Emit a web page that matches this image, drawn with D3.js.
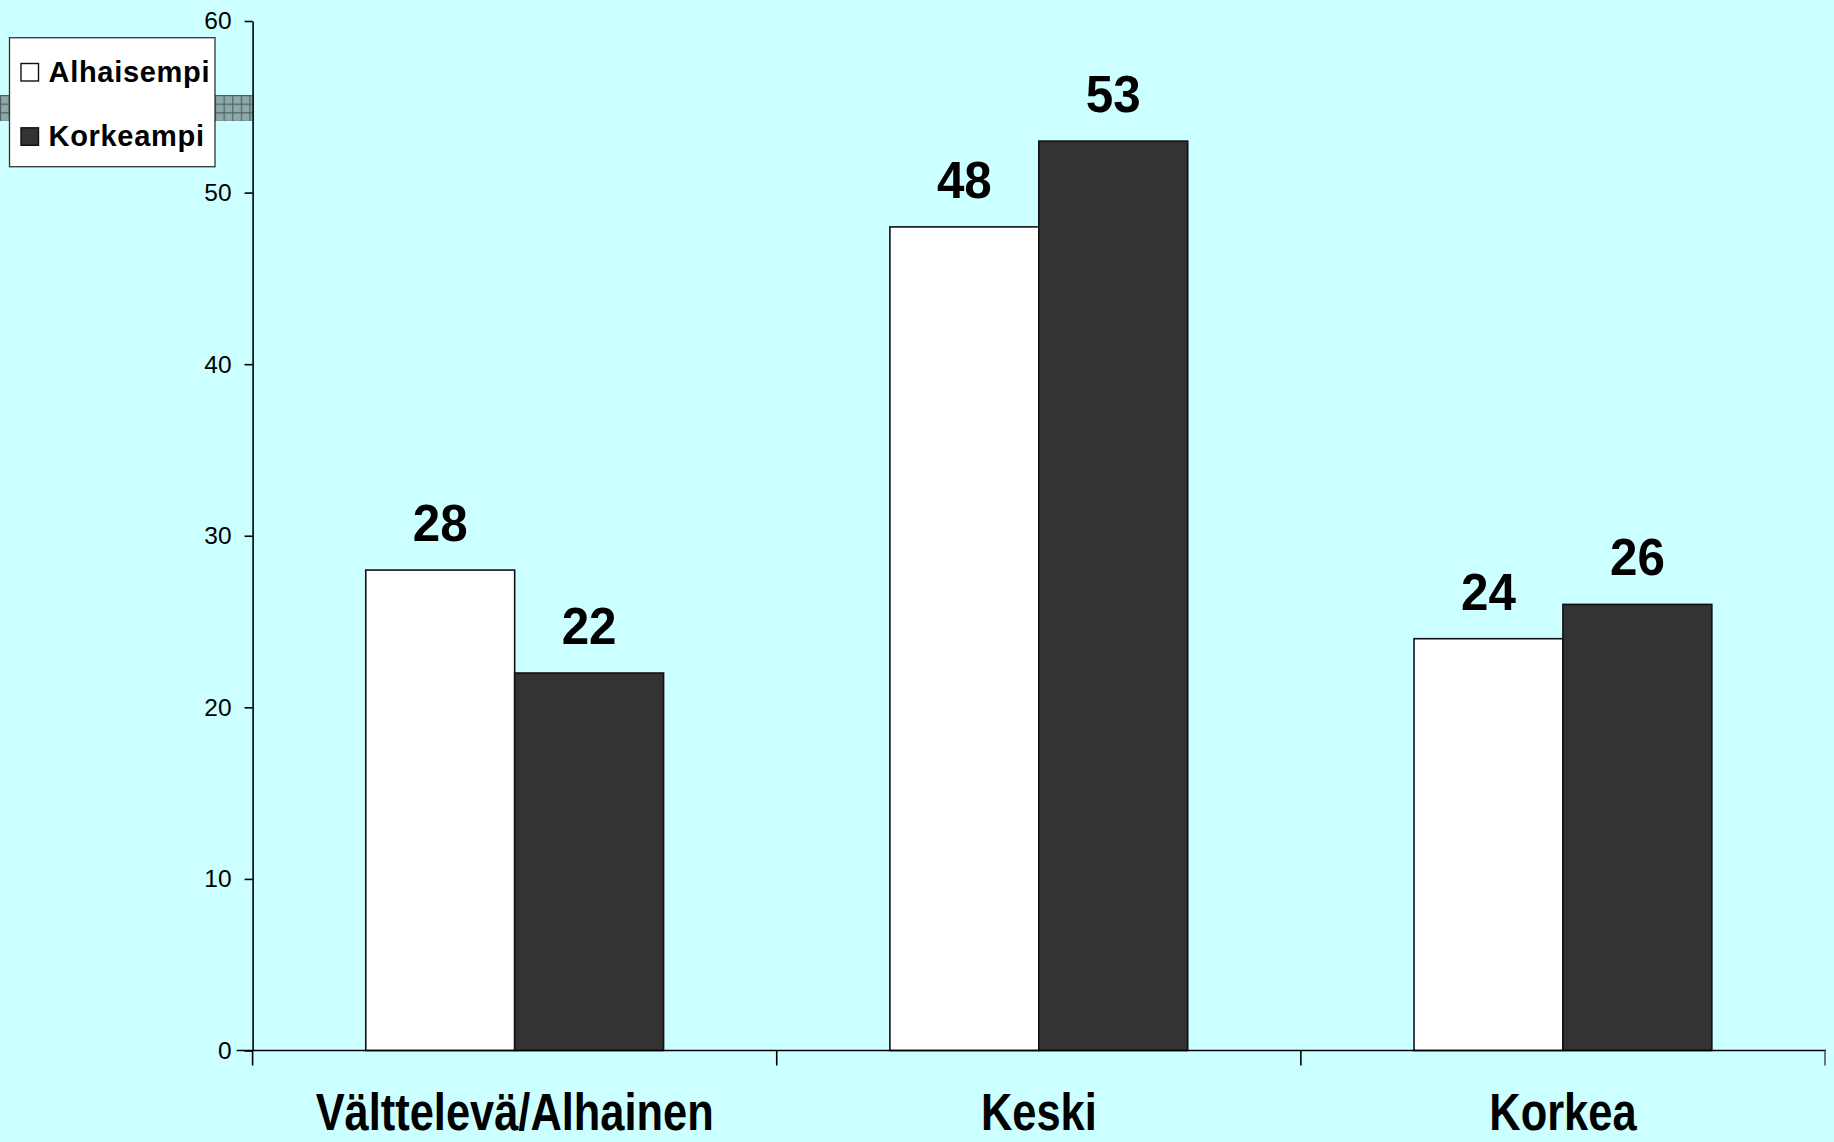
<!DOCTYPE html>
<html>
<head>
<meta charset="utf-8">
<script src="https://cdn.jsdelivr.net/npm/d3@7"></script>
<style>
  html, body { margin: 0; padding: 0; background: #CCFFFF; }
  svg { display: block; }
  text { font-family: "Liberation Sans", Arial, Helvetica, sans-serif; }
</style>
</head>
<body>
<script>
// ---- data ----
const categories = ["Välttelevä/Alhainen", "Keski", "Korkea"];
const seriesNames = ["Alhaisempi", "Korkeampi"];
const alhaisempi = [28, 48, 24];
const korkeampi = [22, 53, 26];
const yTicks = [0, 10, 20, 30, 40, 50, 60];
const seriesColors = ["#FFFFFF", "#333333"];

const W = 1834, H = 1142;
const plot = { left: 252.6, right: 1825, top: 21, bottom: 1050.5 };

const svg = d3.select("body").append("svg").attr("width", W).attr("height", H);
svg.append("rect").attr("width", W).attr("height", H).attr("fill", "#CCFFFF");

// hatched band (behind legend)
const defs = svg.append("defs");
const pat = defs.append("pattern").attr("id", "hatch").attr("patternUnits", "userSpaceOnUse")
  .attr("width", 8.6).attr("height", 8.6).attr("x", 0).attr("y", 95);
pat.append("rect").attr("width", 8.6).attr("height", 8.6).attr("fill", "#8CA8A8");
pat.append("path").attr("d", "M0,0.5H8.6M0.5,0V8.6").attr("stroke", "#4f6262").attr("stroke-width", 1.2);
svg.append("rect").attr("x", 0).attr("y", 95).attr("width", plot.left).attr("height", 26)
  .attr("fill", "url(#hatch)");

const y = d3.scaleLinear().domain([0, 60]).range([plot.bottom, plot.top]);
const x = d3.scaleBand().domain(categories).range([plot.left, plot.right]).paddingInner(0).paddingOuter(0);
const xs = d3.scaleBand().domain(seriesNames).range([0, x.bandwidth()]).paddingInner(0).paddingOuter(0.76);

// y axis
const yAxis = svg.append("g").attr("transform", `translate(${plot.left},0)`)
  .call(d3.axisLeft(y).tickValues(yTicks).tickSize(8).tickPadding(13).tickSizeOuter(0));
yAxis.select(".domain").attr("stroke", "#000").attr("stroke-width", 1.6);
yAxis.selectAll(".tick line").attr("stroke", "#000").attr("stroke-width", 1.6);
yAxis.selectAll(".tick text").attr("font-size", 24.5).attr("fill", "#000")
  .attr("font-family", "'Liberation Sans', Arial, sans-serif");

// bars
const data = categories.map((c, i) => ({ cat: c, vals: [alhaisempi[i], korkeampi[i]] }));
const groups = svg.selectAll("g.grp").data(data).enter().append("g")
  .attr("class", "grp").attr("transform", d => `translate(${x(d.cat)},0)`);
groups.selectAll("rect").data(d => d.vals.map((v, j) => ({ s: seriesNames[j], v, j })))
  .enter().append("rect")
  .attr("x", d => xs(d.s)).attr("width", xs.bandwidth())
  .attr("y", d => y(d.v)).attr("height", d => y(0) - y(d.v))
  .attr("fill", d => seriesColors[d.j]).attr("stroke", "#111").attr("stroke-width", 1.6);
groups.selectAll("text.val").data(d => d.vals.map((v, j) => ({ s: seriesNames[j], v, j })))
  .enter().append("text").attr("class", "val")
  .attr("transform", d => `translate(${xs(d.s) + xs.bandwidth() / 2},${y(d.v) - 29}) scale(0.95,1)`)
  .attr("text-anchor", "middle").attr("font-size", 52).attr("font-weight", "bold").attr("fill", "#000")
  .text(d => d.v);

// x axis
const xAxisG = svg.append("g");
xAxisG.append("line").attr("x1", plot.left - 16).attr("x2", plot.right + 1)
  .attr("y1", y(0)).attr("y2", y(0)).attr("stroke", "#000").attr("stroke-width", 1.6);
const bounds = categories.map(c => x(c)).concat([x(categories[categories.length - 1]) + x.bandwidth()]);
xAxisG.selectAll("line.tk").data(bounds).enter().append("line").attr("class", "tk")
  .attr("x1", d => d).attr("x2", d => d).attr("y1", y(0)).attr("y2", y(0) + 15)
  .attr("stroke", (d, i) => i === bounds.length - 1 ? "#555" : "#000").attr("stroke-width", 1.6);
xAxisG.selectAll("text.cat").data(categories).enter().append("text").attr("class", "cat")
  .attr("transform", d => `translate(${x(d) + x.bandwidth() / 2},1130) scale(0.835,1)`)
  .attr("text-anchor", "middle").attr("font-size", 52).attr("font-weight", "bold").attr("fill", "#000")
  .text(d => d);

// legend
const lg = svg.append("g");
lg.append("rect").attr("x", 9.5).attr("y", 37.7).attr("width", 205.5).attr("height", 129)
  .attr("fill", "#FFFFFF").attr("stroke", "#333").attr("stroke-width", 1.3);
const li = lg.selectAll("g.li").data(seriesNames).enter().append("g").attr("class", "li")
  .attr("transform", (d, i) => `translate(0,${i * 64.3})`);
li.append("rect").attr("x", 21).attr("y", 63.5).attr("width", 17.5).attr("height", 17.5)
  .attr("fill", (d, i) => seriesColors[i]).attr("stroke", "#111").attr("stroke-width", 1.4);
li.append("text").attr("x", 48.5).attr("y", 81.7).attr("font-size", 29).attr("font-weight", "bold")
  .attr("letter-spacing", 0.7)
  .attr("fill", "#000").text(d => d);
</script>
</body>
</html>
